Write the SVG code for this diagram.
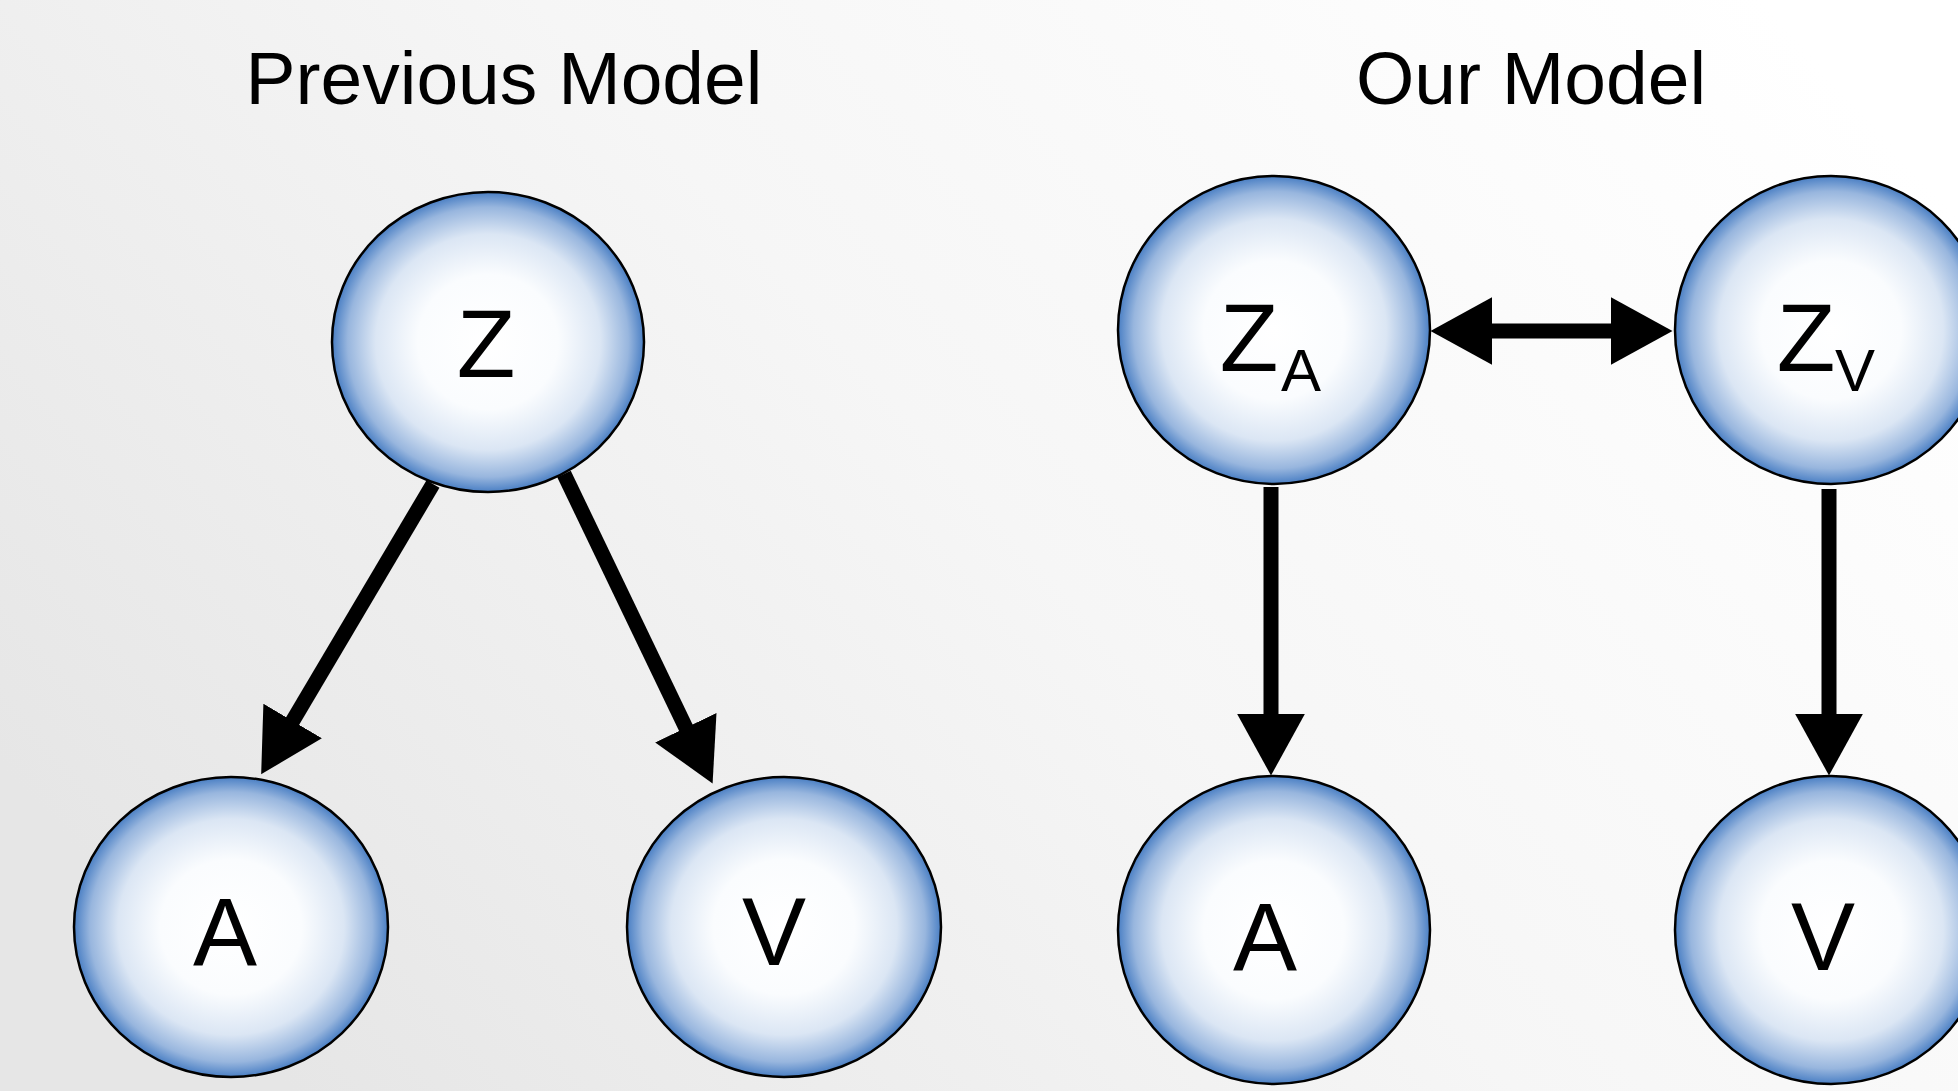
<svg xmlns="http://www.w3.org/2000/svg" width="1958" height="1091" viewBox="0 0 1958 1091">
<defs>
<linearGradient id="bg" x1="0" y1="0.7" x2="1" y2="0.2">
<stop offset="0" stop-color="#e6e6e6"/>
<stop offset="0.5" stop-color="#f6f6f6"/>
<stop offset="1" stop-color="#ffffff"/>
</linearGradient>
<radialGradient id="ball" cx="0.5" cy="0.5" r="0.5">
<stop offset="0" stop-color="#ffffff"/>
<stop offset="0.45" stop-color="#fafcfe"/>
<stop offset="0.72" stop-color="#dbe6f4"/>
<stop offset="0.9" stop-color="#98b6de"/>
<stop offset="1" stop-color="#4a7fc4"/>
</radialGradient>
<marker id="ah" markerUnits="userSpaceOnUse" markerWidth="62" markerHeight="68" viewBox="0 0 60 66" refX="10" refY="33" orient="auto-start-reverse">
<path d="M0,0 L60,33 L0,66 z" fill="#000"/>
</marker>
<style>
.node ellipse{fill:url(#ball);stroke:#000;stroke-width:2.5}
.lbl{font-family:"Liberation Sans",Arial,sans-serif;fill:#000;text-anchor:middle}
.big{font-size:96px}
.sub{font-size:60px}
.title{font-family:"Liberation Sans",Arial,sans-serif;font-size:75px;fill:#000;text-anchor:middle}
.edge{stroke:#000;stroke-width:15;fill:none}
</style>
</defs>
<rect width="1958" height="1091" fill="url(#bg)"/>
<text class="title" x="504" y="104">Previous Model</text>
<text class="title" x="1531" y="104">Our Model</text>
<g id="connectors">
<line class="edge" x1="433" y1="484" x2="287.4" y2="729.9" marker-end="url(#ah)"/>
<line class="edge" x1="564" y1="474" x2="690.3" y2="737" marker-end="url(#ah)"/>
<line class="edge" x1="1271" y1="487" x2="1271" y2="724" marker-end="url(#ah)"/>
<line class="edge" x1="1829" y1="489" x2="1829" y2="724" marker-end="url(#ah)"/>
<line class="edge" x1="1482" y1="331" x2="1621" y2="331" marker-start="url(#ah)" marker-end="url(#ah)"/>
</g>
<g id="node-Z" class="node">
<ellipse cx="488" cy="342" rx="156" ry="150"/>
<text class="lbl big" x="486" y="377">Z</text>
</g>
<g id="node-A-prev" class="node">
<ellipse cx="231" cy="927" rx="157" ry="150"/>
<text class="lbl big" x="225" y="965">A</text>
</g>
<g id="node-V-prev" class="node">
<ellipse cx="784" cy="927" rx="157" ry="150"/>
<text class="lbl big" x="774" y="965">V</text>
</g>
<g id="node-ZA" class="node">
<ellipse cx="1274" cy="330" rx="156" ry="154"/>
<text class="lbl big" x="1249" y="371">Z</text>
<text class="lbl sub" x="1301" y="391">A</text>
</g>
<g id="node-ZV" class="node">
<ellipse cx="1831" cy="330" rx="156" ry="154"/>
<text class="lbl big" x="1806" y="371">Z</text>
<text class="lbl sub" x="1855" y="391">V</text>
</g>
<g id="node-A-our" class="node">
<ellipse cx="1274" cy="930" rx="156" ry="154"/>
<text class="lbl big" x="1265" y="970">A</text>
</g>
<g id="node-V-our" class="node">
<ellipse cx="1831" cy="930" rx="156" ry="154"/>
<text class="lbl big" x="1823" y="970">V</text>
</g>
</svg>
